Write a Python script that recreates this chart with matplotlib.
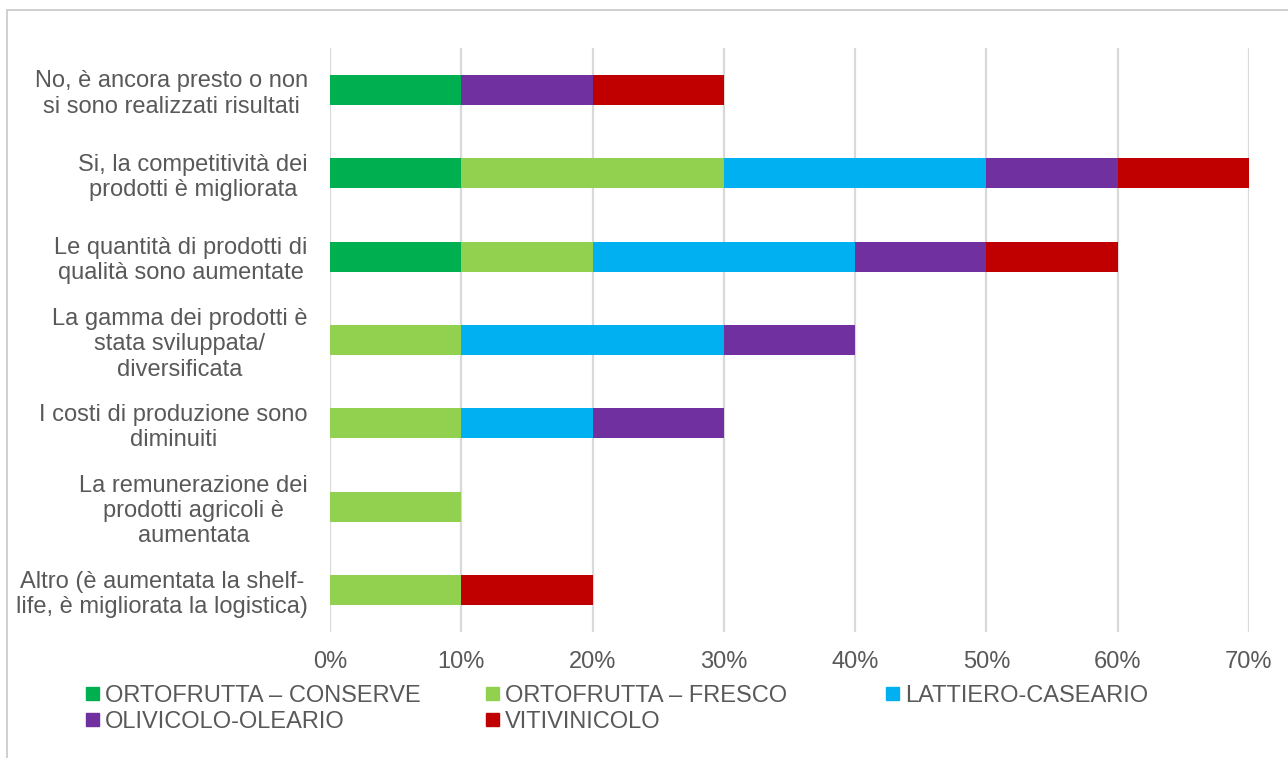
import numpy as np
import matplotlib.pyplot as plt
from matplotlib.patches import Rectangle

plt.rcParams['font.family'] = ['Liberation Sans', 'DejaVu Sans']

categories = [
    "No, è ancora presto o non\nsi sono realizzati risultati",
    "Si, la competitività dei\nprodotti è migliorata",
    "Le quantità di prodotti di\nqualità sono aumentate",
    "La gamma dei prodotti è\nstata sviluppata/\ndiversificata",
    "I costi di produzione sono\ndiminuiti",
    "La remunerazione dei\nprodotti agricoli è\naumentata",
    "Altro (è aumentata la shelf-\nlife, è migliorata la logistica)",
]

series_names = ["ORTOFRUTTA – CONSERVE", "ORTOFRUTTA – FRESCO", "LATTIERO-CASEARIO",
                "OLIVICOLO-OLEARIO", "VITIVINICOLO"]
conserve = [0.10, 0.10, 0.10, 0.00, 0.00, 0.00, 0.00]
fresco = [0.00, 0.20, 0.10, 0.10, 0.10, 0.10, 0.10]
lattiero = [0.00, 0.20, 0.20, 0.20, 0.10, 0.00, 0.00]
olivicolo = [0.10, 0.10, 0.10, 0.10, 0.10, 0.00, 0.00]
vitivinicolo = [0.10, 0.10, 0.10, 0.00, 0.00, 0.00, 0.10]
colors = ["#00B050", "#92D050", "#00B0F0", "#7030A0", "#C00000"]

W, H = 1288, 758
grey = "#595959"
fs = 17
fig = plt.figure(figsize=(W / 100, H / 100), dpi=100)
ax = fig.add_axes([330 / W, 1 - 632 / H, 919 / W, 584 / H])

# outer chart frame
fig.patches.append(Rectangle((7 / W, -0.1), 1.1, 1 - 10 / H + 0.1,
                             transform=fig.transFigure, fill=False,
                             edgecolor="#C8C8C8", linewidth=1.2))

y = np.arange(len(categories))
left = np.zeros(len(categories))
for name, vals, c in zip(series_names, [conserve, fresco, lattiero, olivicolo, vitivinicolo], colors):
    ax.barh(y, vals, left=left, height=0.36, color=c, label=name, zorder=3)
    left += np.array(vals)

ticks = np.arange(0, 0.71, 0.1)
ax.set_xlim(0, 0.7)
ax.set_ylim(len(categories) - 0.5, -0.5)
ax.set_xticks(ticks)
ax.set_xticklabels([f"{int(round(v * 100))}%" for v in ticks])
ax.set_yticks(y)
ax.set_yticklabels(categories, multialignment="center")
ax.tick_params(axis="both", length=0, labelsize=fs, labelcolor=grey)
ax.tick_params(axis="y", pad=16)
ax.tick_params(axis="x", pad=14)
ax.grid(axis="x", color="#D9D9D9", linewidth=1.6, zorder=0)
for s in ax.spines.values():
    s.set_visible(False)

# legend laid out in equal-width columns, filled row by row
col_w, row_h = 400, 26
x0, y0, sq = 86, 693.5, 13
for i, (name, c) in enumerate(zip(series_names, colors)):
    row, col = divmod(i, 3)
    xs = x0 + col * col_w
    yc = y0 + row * row_h
    fig.patches.append(Rectangle((xs / W, 1 - (yc + sq / 2) / H), sq / W, sq / H,
                                 transform=fig.transFigure, color=c))
    fig.text((xs + sq + 6) / W, 1 - yc / H, name, fontsize=fs, color=grey,
             ha="left", va="center_baseline")

fig.savefig("out.png", dpi=100)
